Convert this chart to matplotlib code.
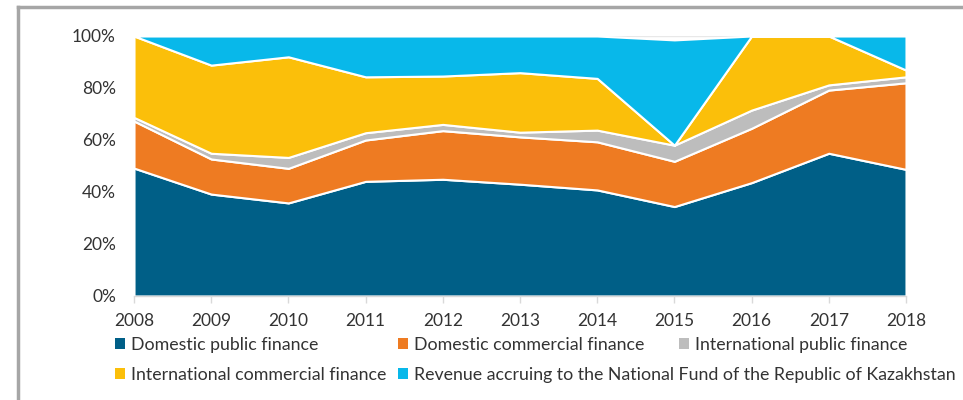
import numpy as np
import matplotlib
matplotlib.use("Agg")
import matplotlib.pyplot as plt
from matplotlib.lines import Line2D
from matplotlib.patches import Patch

years = [2008, 2009, 2010, 2011, 2012, 2013, 2014, 2015, 2016, 2017, 2018]

# shares in percent
domestic_public = [49.2, 39.2, 35.8, 44.1, 44.9, 43.0, 40.8, 34.4, 43.6, 54.9, 48.7]
domestic_commercial = [18.1, 13.5, 13.3, 15.9, 18.7, 18.2, 18.5, 17.4, 20.9, 24.3, 33.3]
international_public = [1.4, 2.2, 4.2, 2.8, 2.4, 1.8, 4.5, 6.2, 7.0, 2.0, 2.3]
international_commercial = [31.3, 33.9, 38.7, 21.5, 18.6, 22.9, 19.9, 0.0, 28.5, 18.8, 2.6]
national_fund = [0.0, 11.2, 8.0, 15.7, 15.4, 14.1, 16.3, 40.5, 0.0, 0.0, 13.1]

labels = ["Domestic public finance", "Domestic commercial finance",
          "International public finance", "International commercial finance",
          "Revenue accruing to the National Fund of the Republic of Kazakhstan"]
colors = ["#005f87", "#ee7b22", "#bdbdbd", "#fbbf0a", "#08b8ea"]

yticks = [0, 20, 40, 60, 80, 100]

plt.rcParams['font.family'] = ['Lato', 'DejaVu Sans']
text_color = "#333333"

fig = plt.figure(figsize=(9.63, 4.0), dpi=100)
ax = fig.add_axes([134/963, 1-296/400, (906-134)/963, (296-36)/400])

ax.axhline(100, color="#e8e8e8", lw=1, zorder=0)
ax.stackplot(years, domestic_public, domestic_commercial, international_public,
             international_commercial, national_fund,
             colors=colors, edgecolor="white", linewidth=1.5, zorder=2)

ax.set_xlim(2008, 2018)
ax.set_ylim(0, 100)
ax.set_xticks(years)
ax.set_xticklabels([str(y) for y in years])
ax.set_yticks(yticks)
ax.set_yticklabels([f"{v}%" for v in yticks])
ax.tick_params(axis="x", length=5, width=1, color="#d9d9d9", labelsize=12.5,
               labelcolor=text_color, pad=7)
ax.tick_params(axis="y", length=0, labelsize=12.5, labelcolor=text_color, pad=13)
for s in ["left", "right", "top"]:
    ax.spines[s].set_visible(False)
ax.spines["bottom"].set_color("#d9d9d9")
ax.spines["bottom"].set_linewidth(1)

# legend entries laid out like the reference (two rows, flowing)
positions = [(115, 345), (398, 345), (679, 345), (115, 375), (398, 375)]
for lab, col, (px, py) in zip(labels, colors, positions):
    h = Patch(facecolor=col, edgecolor="none")
    fig.legend([h], [lab], loc="center left",
               bbox_to_anchor=(px/963, 1-py/400), frameon=False,
               fontsize=12.8, handlelength=0.55, handleheight=0.55,
               handletextpad=0.35, borderpad=0, borderaxespad=0,
               labelcolor=text_color)

# frame around the chart
fig.add_artist(Line2D([18/963, 18/963], [0, 1-7/400], color="#a6a6a6", lw=2.5,
                      transform=fig.transFigure))
fig.add_artist(Line2D([18/963, 1], [1-7/400, 1-7/400], color="#a6a6a6", lw=2.5,
                      transform=fig.transFigure))

fig.savefig("out.png", dpi=100)
